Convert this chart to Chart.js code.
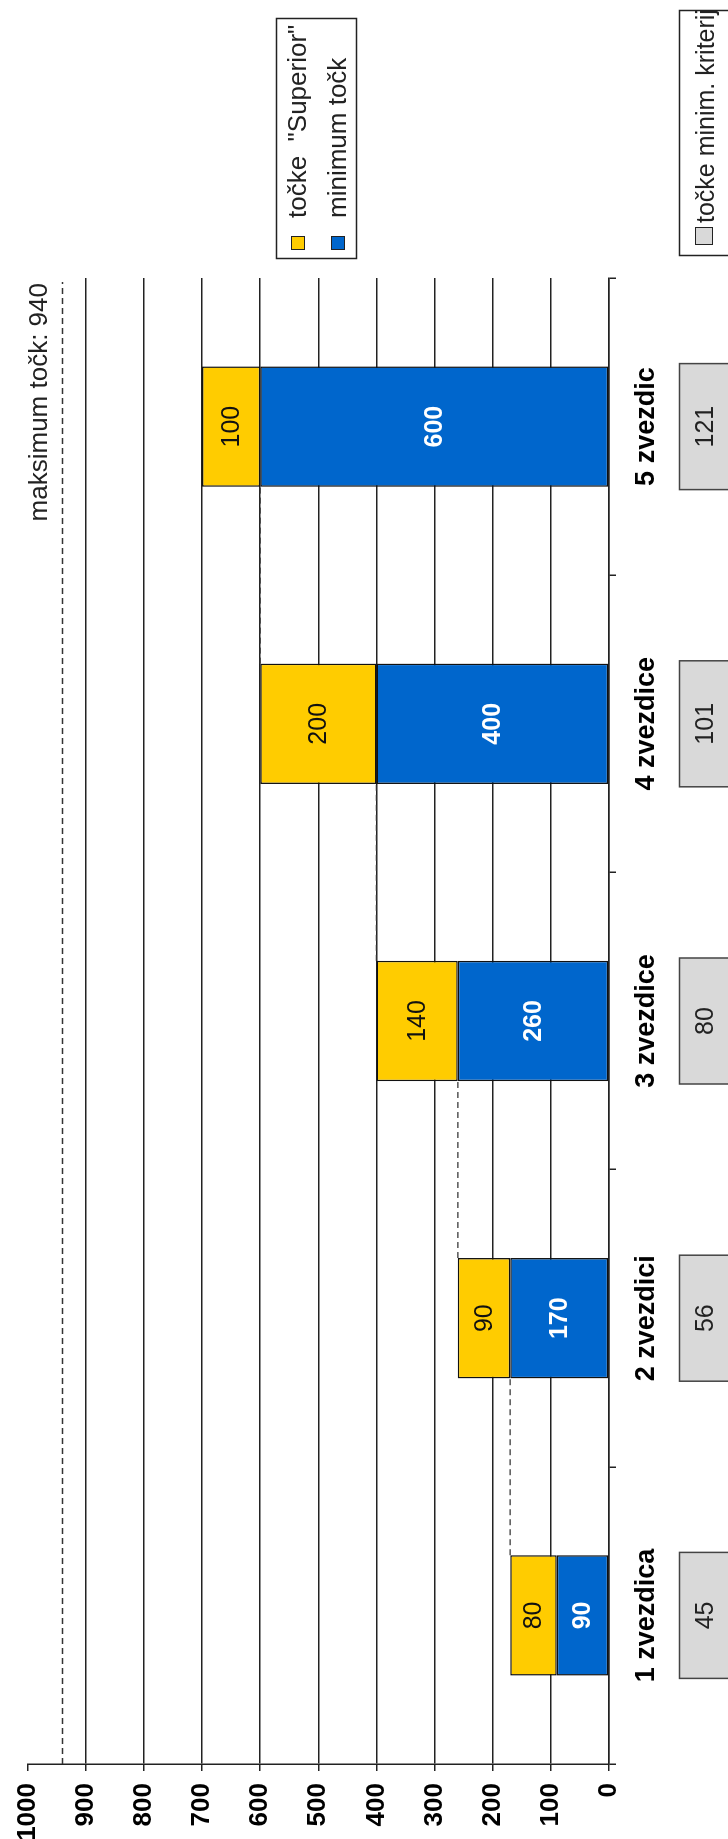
<!DOCTYPE html>
<html lang="sl">
<head>
  <meta charset="UTF-8" />
  <title>Točke po kategorijah</title>
  <script src="https://cdn.jsdelivr.net/npm/chart.js"></script>
  <style>
    html, body { margin: 0; padding: 0; width: 728px; height: 1839px; overflow: hidden; background: #fff; }
    /* chart is drawn upright and turned a quarter left, like the source picture */
    #wrap {
      position: absolute; left: 0; top: 0; width: 1839px; height: 728px;
      transform-origin: 0 0; transform: translateY(1839px) rotate(-90deg);
    }
  </style>
</head>
<body>
  <div id="wrap"><canvas id="chart" width="1839" height="728"></canvas></div>
  <script>
    const categories = ['1 zvezdica', '2 zvezdici', '3 zvezdice', '4 zvezdice', '5 zvezdic'];
    const minimumPoints = [90, 170, 260, 400, 600];
    const superiorPoints = [80, 90, 140, 200, 100];
    const minCriteriaPoints = [45, 56, 80, 101, 121];
    const maxPoints = 940;
    const valueMin = 0, valueMax = 1000, valueStep = 100;

    const FONT = '"Liberation Sans", Arial, sans-serif';
    const BLUE = '#0066CC';
    const YELLOW = '#FFCC00';
    const GREY = '#D9D9D9';
    const INK = '#222';

    Chart.defaults.font.family = FONT;
    Chart.defaults.color = INK;

    const extras = {
      id: 'extras',
      beforeDatasetsDraw(chart) {
        const { ctx, chartArea: a, scales: { y } } = chart;
        const yMax = y.getPixelForValue(maxPoints);
        ctx.save();
        ctx.strokeStyle = '#333';
        ctx.lineWidth = 1.3;
        ctx.setLineDash([6, 4]);
        ctx.beginPath();
        ctx.moveTo(a.left, yMax);
        ctx.lineTo(a.right - 4, yMax);
        ctx.stroke();
        ctx.setLineDash([]);
        ctx.fillStyle = INK;
        ctx.font = '26px ' + FONT;
        ctx.textAlign = 'right';
        ctx.textBaseline = 'alphabetic';
        ctx.fillText('maksimum točk: ' + maxPoints, a.right - 5, yMax - 15);
        ctx.restore();
      },
      afterDatasetsDraw(chart) {
        const { ctx, scales: { x, y } } = chart;
        const tops = chart.getDatasetMeta(1).data;
        ctx.save();

        // dashed steps from one bar's total to the next bar
        ctx.strokeStyle = '#333';
        ctx.lineWidth = 1.3;
        ctx.setLineDash([6, 4]);
        for (let i = 0; i < tops.length - 1; i++) {
          const b0 = tops[i], b1 = tops[i + 1];
          const py = y.getPixelForValue(minimumPoints[i] + superiorPoints[i]);
          ctx.beginPath();
          ctx.moveTo(b0.x + b0.width / 2, py);
          ctx.lineTo(b1.x - b1.width / 2, py);
          ctx.stroke();
        }
        ctx.setLineDash([]);

        // values inside the bar segments
        ctx.textAlign = 'center';
        ctx.textBaseline = 'middle';
        chart.data.datasets.forEach((ds, di) => {
          chart.getDatasetMeta(di).data.forEach((bar, i) => {
            const p = bar.getProps(['x', 'y', 'base'], true);
            ctx.font = (di === 0 ? 'bold ' : '') + '25px ' + FONT;
            ctx.fillStyle = di === 0 ? '#fff' : '#111';
            ctx.fillText(String(ds.data[i]), p.x, (p.y + p.base) / 2 + 1);
          });
        });

        // grey boxes with the minimum criteria points
        ctx.font = '25px ' + FONT;
        categories.forEach((c, i) => {
          const cx = x.getPixelForValue(i);
          ctx.fillStyle = GREY;
          ctx.fillRect(cx - 63, 679, 126, 70);
          ctx.strokeStyle = '#444';
          ctx.lineWidth = 1.5;
          ctx.strokeRect(cx - 63, 679.5, 126, 70);
          ctx.fillStyle = INK;
          ctx.fillText(String(minCriteriaPoints[i]), cx, 706);
        });

        // legend for the bars
        ctx.strokeStyle = INK;
        ctx.lineWidth = 1.5;
        ctx.strokeRect(1580.5, 276.5, 240, 80);
        [[YELLOW, 'točke  "Superior"', 298], [BLUE, 'minimum točk', 338]].forEach(([col, txt, vy]) => {
          ctx.fillStyle = col;
          ctx.fillRect(1589, vy - 7, 14, 14);
          ctx.lineWidth = 1;
          ctx.strokeRect(1589.5, vy - 6.5, 13, 13);
          ctx.fillStyle = INK;
          ctx.font = '26px ' + FONT;
          ctx.textAlign = 'left';
          ctx.fillText(txt, 1621, vy + 1);
        });

        // legend for the grey boxes (cut at the frame, as in the source)
        ctx.lineWidth = 1.5;
        ctx.strokeRect(1583.5, 679.5, 245, 80);
        ctx.fillStyle = GREY;
        ctx.fillRect(1594, 695, 17, 17);
        ctx.lineWidth = 1;
        ctx.strokeRect(1594.5, 695.5, 17, 17);
        ctx.beginPath();
        ctx.rect(1584, 680, 244, 80);
        ctx.clip();
        ctx.fillStyle = INK;
        ctx.font = '25px ' + FONT;
        ctx.textAlign = 'left';
        ctx.textBaseline = 'alphabetic';
        ctx.fillText('točke minim. kriterijev', 1616, 714);
        ctx.restore();
      }
    };

    new Chart(document.getElementById('chart'), {
      type: 'bar',
      data: {
        labels: categories,
        datasets: [
          { label: 'minimum točk', data: minimumPoints, backgroundColor: BLUE },
          { label: 'točke "Superior"', data: superiorPoints, backgroundColor: YELLOW }
        ]
      },
      options: {
        responsive: false,
        devicePixelRatio: 1,
        animation: false,
        layout: { padding: { top: 24, right: 278, left: 0, bottom: 0 } },
        datasets: {
          bar: {
            barPercentage: 0.405,
            categoryPercentage: 1,
            borderColor: '#111',
            borderWidth: 1.5,
            borderSkipped: false
          }
        },
        plugins: { legend: { display: false }, tooltip: { enabled: false } },
        scales: {
          x: {
            stacked: true,
            afterFit: s => { s.height = 119; },
            grid: { offset: true, drawOnChartArea: false, drawTicks: true, tickLength: 7, color: INK, lineWidth: 1.5 },
            border: { display: true, color: INK, width: 1.5 },
            ticks: { padding: 14, font: { size: 27, weight: 'bold' }, color: '#000' }
          },
          y: {
            stacked: true,
            min: valueMin,
            max: valueMax,
            afterFit: s => { s.width = 75; },
            grid: {
              color: c => (c.tick && c.tick.value === valueMax ? 'rgba(0,0,0,0)' : INK),
              tickColor: INK,
              lineWidth: 1.5,
              tickLength: 7
            },
            border: { display: true, color: INK, width: 1.5 },
            ticks: {
              stepSize: valueStep,
              padding: 12,
              font: { size: 26, weight: 'bold' },
              color: '#000',
              callback: v => String(v)
            }
          }
        }
      },
      plugins: [extras]
    });
  </script>
</body>
</html>
